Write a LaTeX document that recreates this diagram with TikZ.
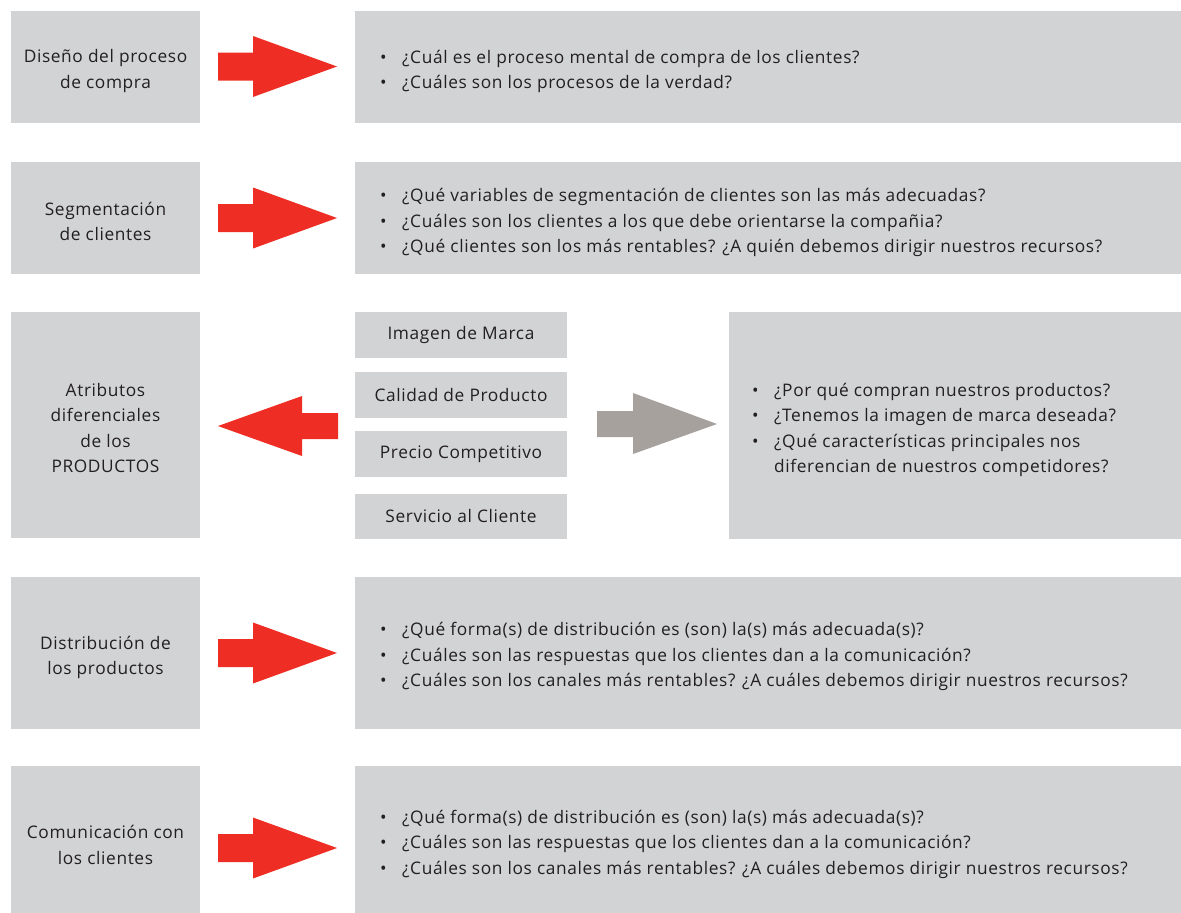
\documentclass[tikz,border=0pt]{standalone}
\usepackage{fontspec}
\setmainfont{Open Sans}[LetterSpace=3.6]
\definecolor{boxgray}{HTML}{D1D3D4}
\definecolor{arrred}{HTML}{EE2E24}
\definecolor{arrgray}{HTML}{A7A19E}
\definecolor{txt}{HTML}{231F20}
\newcommand\mainfs{\fontsize{17.3}{25.5}\selectfont}
\newcommand\bul{\makebox[22pt][l]{•}}
\begin{document}
\begin{tikzpicture}[x=1pt,y=-1pt,
  box/.style={fill=boxgray, draw=none, inner sep=0pt, outer sep=0pt, font=\mainfs, text=txt, align=center},
  lbl/.style={font=\mainfs, text=txt, align=center, inner sep=0pt},
  qs/.style={font=\mainfs, text=txt, align=left, inner sep=0pt, anchor=west},
  rarrow/.pic={\path[fill=arrred] (0,-14) -- (35,-14) -- (35,-30.5) -- (119,0) -- (35,30.5) -- (35,14) -- (0,14) -- cycle;},
  larrow/.pic={\path[fill=arrred] (0,-13) -- (-36,-13) -- (-36,-30) -- (-120,0) -- (-36,30) -- (-36,13) -- (0,13) -- cycle;},
  garrow/.pic={\path[fill=arrgray] (0,-13) -- (36,-13) -- (36,-31) -- (120,0) -- (36,30) -- (36,13) -- (0,13) -- cycle;}
]
\useasboundingbox (0,0) rectangle (1181,913);
% left boxes
\node[box, minimum width=189pt, minimum height=112pt] (L1) at (105.5,67) {};
\node[box, minimum width=189pt, minimum height=112pt] (L2) at (105.5,218) {};
\node[box, minimum width=189pt, minimum height=226pt] (L3) at (105.5,425) {};
\node[box, minimum width=189pt, minimum height=152pt] (L4) at (105.5,653) {};
\node[box, minimum width=189pt, minimum height=147pt] (L5) at (105.5,839.5) {};
% right boxes
\node[box, minimum width=826pt, minimum height=112pt] (R1) at (768,67) {};
\node[box, minimum width=826pt, minimum height=112pt] (R2) at (768,218) {};
\node[box, minimum width=452pt, minimum height=227pt] (R3) at (955,425.5) {};
\node[box, minimum width=826pt, minimum height=152pt] (R4) at (768,653) {};
\node[box, minimum width=826pt, minimum height=147pt] (R5) at (768,839.5) {};
% middle boxes
\node[box, minimum width=212pt, minimum height=46pt] (M1) at (461,335) {Imagen de Marca};
\node[box, minimum width=212pt, minimum height=46pt] (M2) at (461,395) {Calidad de Producto};
\node[box, minimum width=212pt, minimum height=46pt] (M3) at (461,454) {Precio Competitivo};
\node[box, minimum width=212pt, minimum height=45pt] (M4) at (461,516.5) {Servicio al Cliente};
% left labels
\node[lbl] (lab1) at (105.5,71) {Diseño del proceso\\de compra};
\node[lbl] (lab2) at (105.5,221.5) {Segmentación\\de clientes};
\node[lbl] (lab3) at (105.5,428) {Atributos\\diferenciales\\de los\\PRODUCTOS};
\node[lbl] (lab4) at (105.5,657.5) {Distribución de\\los productos};
\node[lbl] (lab5) at (105.5,845) {Comunicación con\\los clientes};
% questions
\node[qs] (q1) at (380,71.5) {\bul¿Cuál es el proceso mental de compra de los clientes?\\
\bul¿Cuáles son los procesos de la verdad?};
\node[qs] (q2) at (380,222.5) {\bul¿Qué variables de segmentación de clientes son las más adecuadas?\\
\bul¿Cuáles son los clientes a los que debe orientarse la compañia?\\
\bul¿Qué clientes son los más rentables? ¿A quién debemos dirigir nuestros recursos?};
\node[qs] (q3) at (752,430) {\bul¿Por qué compran nuestros productos?\\
\bul¿Tenemos la imagen de marca deseada?\\
\bul¿Qué características principales nos\\
\makebox[22pt]{}diferencian de nuestros competidores?};
\node[qs] (q4) at (380,656.5) {\bul¿Qué forma(s) de distribución es (son) la(s) más adecuada(s)?\\
\bul¿Cuáles son las respuestas que los clientes dan a la comunicación?\\
\bul¿Cuáles son los canales más rentables? ¿A cuáles debemos dirigir nuestros recursos?};
\node[qs] (q5) at (380,844) {\bul¿Qué forma(s) de distribución es (son) la(s) más adecuada(s)?\\
\bul¿Cuáles son las respuestas que los clientes dan a la comunicación?\\
\bul¿Cuáles son los canales más rentables? ¿A cuáles debemos dirigir nuestros recursos?};
% arrows
\pic at (218,66.5) {rarrow};
\pic at (218,218) {rarrow};
\pic at (338,426) {larrow};
\pic at (597,424) {garrow};
\pic at (218,653) {rarrow};
\pic at (218,848) {rarrow};
\end{tikzpicture}
\end{document}
